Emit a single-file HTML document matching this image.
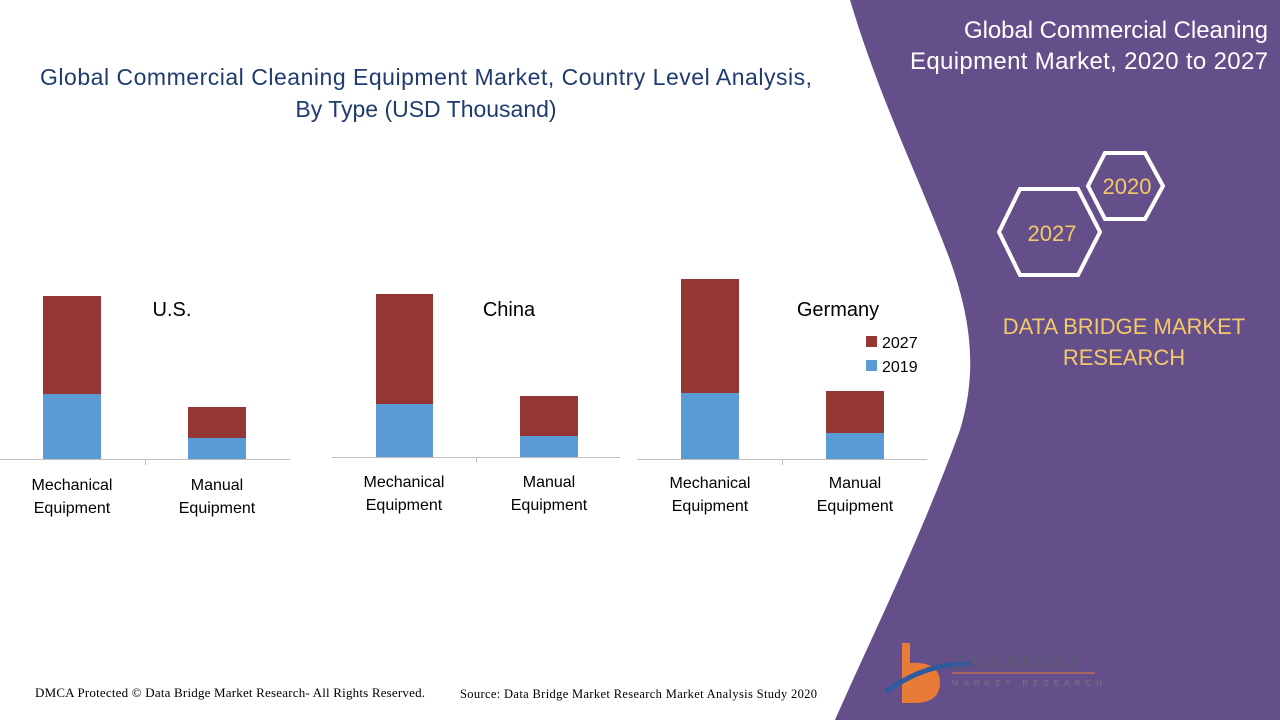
<!DOCTYPE html>
<html><head><meta charset="utf-8"><style>
body{margin:0;width:1280px;height:720px;overflow:hidden;background:#fff;font-family:"Liberation Sans",sans-serif}
</style></head><body>
<svg width="1280" height="720" viewBox="0 0 1280 720" xmlns="http://www.w3.org/2000/svg" style="position:absolute;left:0;top:0">
<path d="M850,0 C880,100 920,180 950,260 C975,330 975,380 960,430 C920,540 870,640 835,720 L1280,720 L1280,0 Z" fill="#654f8a"/>
<g font-family="Liberation Sans, sans-serif">
<text x="426" y="85" font-size="23" fill="#1f3b70" text-anchor="middle" textLength="772">Global Commercial Cleaning Equipment Market, Country Level Analysis,</text>
<text x="426" y="117" font-size="23" fill="#1f3b70" text-anchor="middle">By Type (USD Thousand)</text>
<text x="1268" y="38" font-size="24" fill="#fff" text-anchor="end" textLength="304">Global Commercial Cleaning</text>
<text x="1268" y="69" font-size="24" fill="#fff" text-anchor="end" textLength="358">Equipment Market, 2020 to 2027</text>
<polygon points="1105,153 1145,153 1163,186 1145,219 1105,219 1088,186" fill="none" stroke="#fff" stroke-width="4"/>
<text x="1127" y="194" font-size="22" fill="#f3c969" text-anchor="middle">2020</text>
<polygon points="1020,189 1078,189 1100,232 1078,275 1020,275 999,232" fill="none" stroke="#fff" stroke-width="4"/>
<text x="1052" y="241" font-size="22" fill="#f3c969" text-anchor="middle">2027</text>
<text x="1124" y="334" font-size="22" fill="#f3c969" text-anchor="middle">DATA BRIDGE MARKET</text>
<text x="1124" y="365" font-size="22" fill="#f3c969" text-anchor="middle">RESEARCH</text>

<rect x="43" y="296" width="58" height="98" fill="#943634"/><rect x="43" y="394" width="58" height="65" fill="#5b9bd5"/>
<rect x="188" y="407" width="58" height="31" fill="#943634"/><rect x="188" y="438" width="58" height="21" fill="#5b9bd5"/>
<line x1="0" y1="459.5" x2="290" y2="459.5" stroke="#bfbfbf"/><line x1="145.5" y1="459" x2="145.5" y2="465" stroke="#bfbfbf"/>
<text x="172" y="316" font-size="20" fill="#000" text-anchor="middle">U.S.</text>
<text x="72" y="490" font-size="16" text-anchor="middle">Mechanical</text><text x="72" y="513" font-size="16" text-anchor="middle">Equipment</text>
<text x="217" y="490" font-size="16" text-anchor="middle">Manual</text><text x="217" y="513" font-size="16" text-anchor="middle">Equipment</text>
<rect x="376" y="294" width="57" height="110" fill="#943634"/><rect x="376" y="404" width="57" height="53" fill="#5b9bd5"/>
<rect x="520" y="396" width="58" height="40" fill="#943634"/><rect x="520" y="436" width="58" height="21" fill="#5b9bd5"/>
<line x1="332" y1="457.5" x2="620" y2="457.5" stroke="#bfbfbf"/><line x1="476.5" y1="457" x2="476.5" y2="463" stroke="#bfbfbf"/>
<text x="509" y="316" font-size="20" text-anchor="middle">China</text>
<text x="404" y="487" font-size="16" text-anchor="middle">Mechanical</text><text x="404" y="510" font-size="16" text-anchor="middle">Equipment</text>
<text x="549" y="487" font-size="16" text-anchor="middle">Manual</text><text x="549" y="510" font-size="16" text-anchor="middle">Equipment</text>
<rect x="681" y="279" width="58" height="114" fill="#943634"/><rect x="681" y="393" width="58" height="66" fill="#5b9bd5"/>
<rect x="826" y="391" width="58" height="42" fill="#943634"/><rect x="826" y="433" width="58" height="26" fill="#5b9bd5"/>
<line x1="637" y1="459.5" x2="927" y2="459.5" stroke="#bfbfbf"/><line x1="782.5" y1="459" x2="782.5" y2="465" stroke="#bfbfbf"/>
<text x="838" y="316" font-size="20" text-anchor="middle">Germany</text>
<text x="710" y="488" font-size="16" text-anchor="middle">Mechanical</text><text x="710" y="511" font-size="16" text-anchor="middle">Equipment</text>
<text x="855" y="488" font-size="16" text-anchor="middle">Manual</text><text x="855" y="511" font-size="16" text-anchor="middle">Equipment</text>
<rect x="866" y="336" width="11" height="11" fill="#943634"/><text x="882" y="348" font-size="16">2027</text>
<rect x="866" y="360" width="11" height="11" fill="#5b9bd5"/><text x="882" y="372" font-size="16">2019</text>

<text x="35" y="697" font-size="13" font-family="Liberation Serif, serif" textLength="390">DMCA Protected © Data Bridge Market Research- All Rights Reserved.</text>
<text x="460" y="698" font-size="12.5" font-family="Liberation Serif, serif" textLength="357">Source: Data Bridge Market Research Market Analysis Study 2020</text>

<path d="M902,643 h8 v20 q30,-2 30,20 q0,18 -22,20 h-16 z" fill="#e87b35"/>
<path d="M886,692 q40,-30 86,-28" fill="none" stroke="#2f5aa0" stroke-width="5"/>
<text x="952" y="669" font-size="20" fill="#5a5a70" font-family="Liberation Serif, serif">DATA BRIDGE</text>
<line x1="952" y1="673" x2="1095" y2="673" stroke="#e87b35"/>
<text x="952" y="686" font-size="8" fill="#777" letter-spacing="5">MARKET RESEARCH</text>
</g>
</svg>
</body></html>
